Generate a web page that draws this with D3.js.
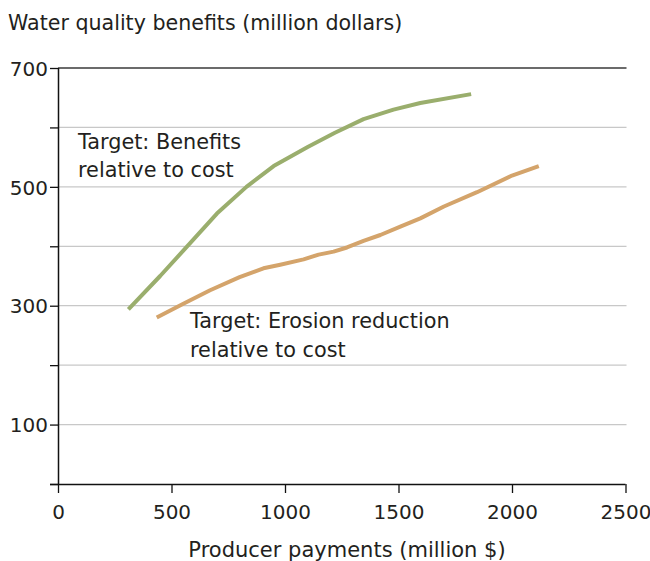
<!DOCTYPE html>
<html>
<head>
<meta charset="utf-8">
<script src="https://cdn.jsdelivr.net/npm/d3@7"></script>
<style>
  html, body { margin: 0; padding: 0; background: #fff; }
  svg { display: block; }
  text { font-family: "DejaVu Sans", sans-serif; fill: #231f20; }
</style>
</head>
<body>
<svg id="chart" width="650" height="561"></svg>
<script>
// Data
const benefitsX = [310, 450, 567, 700, 830, 950, 1100, 1220, 1346, 1478, 1596, 1820];
const benefitsY = [294, 350, 399, 455, 500, 535, 567, 591, 614, 630, 641, 656];
const erosionX = [435, 550, 670, 800, 905, 979, 1082, 1148, 1214, 1273, 1346, 1420, 1508, 1596, 1700, 1846, 2000, 2118];
const erosionY = [280, 303, 326, 348, 363, 369, 378, 386, 391, 398, 409, 419, 433, 447, 467, 491, 519, 535];
const xTicks = [0, 500, 1000, 1500, 2000, 2500];
const yTicks = [0, 100, 200, 300, 400, 500, 600, 700];
const yLabels = [100, 300, 500, 700];
const titleY = "Water quality benefits (million dollars)";
const titleX = "Producer payments (million $)";
const noteBenefits = ["Target: Benefits", "relative to cost"];
const noteErosion = ["Target: Erosion reduction", "relative to cost"];

const svg = d3.select("#chart");
const mLeft = 58, mRight = 625.5, mTop = 68, mBottom = 484;

const x = d3.scaleLinear().domain([0, 2500]).range([mLeft, mRight]);
const y = d3.scaleLinear().domain([0, 700]).range([mBottom, mTop]);

// gridlines
svg.append("g").selectAll("line")
  .data(yTicks.filter(d => d > 0 && d < 700))
  .join("line")
  .attr("x1", mLeft).attr("x2", mRight + 1)
  .attr("y1", d => y(d)).attr("y2", d => y(d))
  .attr("stroke", "#c8c8c8").attr("stroke-width", 1.3);

// top line at 700
svg.append("line")
  .attr("x1", mLeft).attr("x2", mRight + 1)
  .attr("y1", y(700)).attr("y2", y(700))
  .attr("stroke", "#3a3a3a").attr("stroke-width", 1.5);

// y axis
const yAxis = d3.axisLeft(y).tickValues(yTicks).tickSize(8)
  .tickFormat(d => yLabels.includes(d) ? d : "");
const gy = svg.append("g").attr("transform", `translate(${mLeft},0)`).call(yAxis);
gy.select(".domain").attr("stroke", "#111").attr("stroke-width", 1.5)
  .attr("d", `M0.5,${mBottom}V${mTop}`);
gy.selectAll(".tick line").attr("stroke", "#111").attr("stroke-width", 1.3);
gy.selectAll(".tick text").attr("x", -10).attr("dy", "0.36em")
  .style("font-size", "20px").style("font-family", '"DejaVu Sans", sans-serif').attr("fill", "#231f20");

// x axis
const xAxis = d3.axisBottom(x).tickValues(xTicks).tickSize(9).tickFormat(d => d);
const gx = svg.append("g").attr("transform", `translate(0,${mBottom})`).call(xAxis);
gx.select(".domain").attr("stroke", "#111").attr("stroke-width", 1.5)
  .attr("d", `M${mLeft - 8},0.5H${mRight}`);
gx.selectAll(".tick line").attr("stroke", "#111").attr("stroke-width", 1.3);
gx.selectAll(".tick text").attr("y", 35).attr("dy", 0)
  .style("font-size", "20px").style("font-family", '"DejaVu Sans", sans-serif').attr("fill", "#231f20");

// lines
const line = d3.line().x(d => x(d[0])).y(d => y(d[1]));
svg.append("path")
  .datum(benefitsX.map((v, i) => [v, benefitsY[i]]))
  .attr("d", line).attr("fill", "none")
  .attr("stroke", "#9aae6d").attr("stroke-width", 4).attr("stroke-linejoin", "round");
svg.append("path")
  .datum(erosionX.map((v, i) => [v, erosionY[i]]))
  .attr("d", line).attr("fill", "none")
  .attr("stroke", "#d4a46b").attr("stroke-width", 4).attr("stroke-linejoin", "round");

// titles
svg.append("text").attr("x", 8).attr("y", 30).style("font-size", "20.6px").text(titleY);
svg.append("text").attr("x", 347).attr("y", 557).attr("text-anchor", "middle")
  .style("font-size", "21px").text(titleX);

// annotations
svg.append("text").style("font-size", "20.8px")
  .selectAll("tspan").data(noteBenefits).join("tspan")
  .attr("x", 78).attr("y", (d, i) => 149 + i * 28).text(d => d);
svg.append("text").style("font-size", "20.8px")
  .selectAll("tspan").data(noteErosion).join("tspan")
  .attr("x", 190).attr("y", (d, i) => 328 + i * 29).text(d => d);
</script>
</body>
</html>
